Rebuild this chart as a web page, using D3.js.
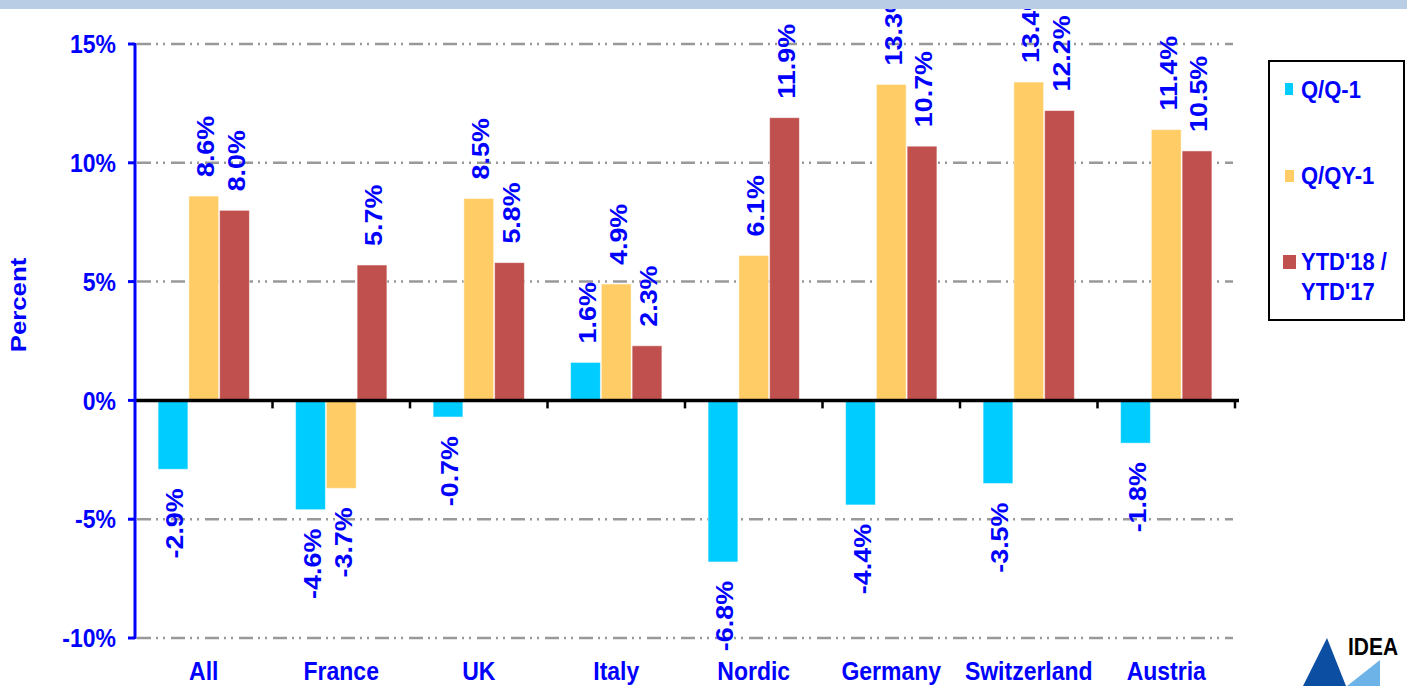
<!DOCTYPE html>
<html>
<head>
<meta charset="utf-8">
<script src="https://cdn.jsdelivr.net/npm/d3@7"></script>
<style>
  body { margin: 0; background: #fff; }
  svg { display: block; font-family: "Liberation Sans", Arial, sans-serif; font-weight: bold; }
</style>
</head>
<body>
<svg id="chart" width="1407" height="686"></svg>
<script>
// chart data
const categories = ["All", "France", "UK", "Italy", "Nordic", "Germany", "Switzerland", "Austria"];
const seriesNames = ["Q/Q-1", "Q/QY-1", "YTD'18 / YTD'17"];
const qq1 = [-2.9, -4.6, -0.7, 1.6, -6.8, -4.4, -3.5, -1.8];
const qqy1 = [8.6, -3.7, 8.5, 4.9, 6.1, 13.3, 13.4, 11.4];
const ytd = [8.0, 5.7, 5.8, 2.3, 11.9, 10.7, 12.2, 10.5];
const yTicks = [-10, -5, 0, 5, 10, 15];

const colors = ["#00CCFF", "#FFCC66", "#C0504D"];
const blue = "#0000FF";
const stretch = 1.12; // the original text looks a bit taller than plain Arial

const svg = d3.select("#chart");

const x0 = d3.scaleBand().domain(categories).range([135, 1235]).padding(0);
const x1 = d3.scaleBand().domain(seriesNames).range([0, x0.bandwidth()])
    .paddingInner(0.03).paddingOuter(0.75);
const y = d3.scaleLinear().domain([-10, 15]).range([638, 44]);

// gridlines
svg.append("g")
    .selectAll("line")
    .data(yTicks.filter(d => d !== 0))
    .enter()
    .append("line")
    .attr("x1", 137).attr("x2", 1233)
    .attr("y1", d => y(d)).attr("y2", d => y(d))
    .attr("stroke", "#999")
    .attr("stroke-width", 2.5)
    .attr("stroke-dasharray", "14,5,2,5,2,6");

// bars
const rows = categories.map((c, i) => ({ cat: c, vals: [qq1[i], qqy1[i], ytd[i]] }));

const groups = svg.append("g")
    .selectAll("g")
    .data(rows)
    .enter()
    .append("g")
    .attr("transform", d => `translate(${x0(d.cat)},0)`);

groups.selectAll("rect")
    .data(d => d.vals.map((v, j) => ({ key: seriesNames[j], v: v, j: j })))
    .enter()
    .append("rect")
    .attr("x", d => x1(d.key))
    .attr("width", x1.bandwidth())
    .attr("y", d => y(Math.max(0, d.v)))
    .attr("height", d => Math.abs(y(d.v) - y(0)))
    .attr("fill", d => colors[d.j])
    .attr("stroke", "rgba(255,255,255,0.55)")
    .attr("stroke-width", 1);

// data labels
groups.selectAll("text")
    .data(d => d.vals.map((v, j) => ({ key: seriesNames[j], v: v, j: j })))
    .enter()
    .append("text")
    .attr("transform", d => {
        const cx = x1(d.key) + x1.bandwidth() / 2 + 2;
        const cy = d.v >= 0 ? y(d.v) - 19 : y(d.v) + 19;
        return `translate(${cx},${cy}) scale(1,${stretch}) rotate(-90)`;
    })
    .attr("dy", "0.35em")
    .attr("text-anchor", d => d.v >= 0 ? "start" : "end")
    .attr("fill", blue)
    .attr("font-size", 24)
    .text(d => d.v.toFixed(1) + "%");

// zero axis with category ticks
svg.append("line")
    .attr("x1", 135).attr("x2", 1239)
    .attr("y1", y(0)).attr("y2", y(0))
    .attr("stroke", "#000").attr("stroke-width", 3.5);

svg.append("g")
    .selectAll("line")
    .data(categories.slice(1).concat(["end"]))
    .enter()
    .append("line")
    .attr("x1", d => d === "end" ? x0.range()[1] : x0(d))
    .attr("x2", d => d === "end" ? x0.range()[1] : x0(d))
    .attr("y1", y(0)).attr("y2", y(0) + 8)
    .attr("stroke", "#000").attr("stroke-width", 2.5);

// category labels
svg.append("g")
    .selectAll("text")
    .data(categories)
    .enter()
    .append("text")
    .attr("transform", d => `translate(${x0(d) + x0.bandwidth() / 2},680) scale(1,${stretch})`)
    .attr("text-anchor", "middle")
    .attr("fill", blue)
    .attr("font-size", 23)
    .text(d => d);

// y axis
svg.append("line")
    .attr("x1", 135).attr("x2", 135)
    .attr("y1", y(15) - 1).attr("y2", y(-10) + 1)
    .attr("stroke", blue).attr("stroke-width", 3);

const yAxis = svg.append("g");
yAxis.selectAll("line")
    .data(yTicks)
    .enter()
    .append("line")
    .attr("x1", 128).attr("x2", 135)
    .attr("y1", d => y(d)).attr("y2", d => y(d))
    .attr("stroke", blue).attr("stroke-width", 3);

yAxis.selectAll("text")
    .data(yTicks)
    .enter()
    .append("text")
    .attr("transform", d => `translate(116,${y(d)}) scale(1,${stretch})`)
    .attr("dy", "0.36em")
    .attr("text-anchor", "end")
    .attr("fill", blue)
    .attr("font-size", 23)
    .text(d => d + "%");

svg.append("text")
    .attr("transform", `translate(26,305) scale(1,${stretch}) rotate(-90)`)
    .attr("text-anchor", "middle")
    .attr("fill", blue)
    .attr("font-size", 23)
    .text("Percent");

// legend
const legend = svg.append("g");
legend.append("rect")
    .attr("x", 1269).attr("y", 61)
    .attr("width", 135).attr("height", 259)
    .attr("fill", "#fff")
    .attr("stroke", "#000").attr("stroke-width", 2);

const legendKeys = [
    { lines: ["Q/Q-1"], base: 98, sw: [1285, 83, 8, 12] },
    { lines: ["Q/QY-1"], base: 184, sw: [1285, 170, 9, 12] },
    { lines: ["YTD'18 /", "YTD'17"], base: 270, sw: [1283, 255, 13, 14] }
];
legendKeys.forEach((k, i) => {
    legend.append("rect")
        .attr("x", k.sw[0]).attr("y", k.sw[1])
        .attr("width", k.sw[2]).attr("height", k.sw[3])
        .attr("fill", colors[i]);
    k.lines.forEach((t, li) => {
        legend.append("text")
            .attr("transform", `translate(1301,${k.base + li * 30}) scale(1,${stretch})`)
            .attr("fill", blue)
            .attr("font-size", 22)
            .text(t);
    });
});

// top band (drawn last so it clips the tall labels)
svg.append("rect")
    .attr("x", 0).attr("y", 0)
    .attr("width", 1407).attr("height", 9)
    .attr("fill", "#B9CDE5");

// IDEA logo
const logo = svg.append("g");
logo.append("path")
    .attr("d", "M1327,638 L1346,686 L1303,686 Z")
    .attr("fill", "#0B4EA2");
logo.append("path")
    .attr("d", "M1347,686 L1380,660 L1380,686 Z")
    .attr("fill", "#6DB3E8");
logo.append("text")
    .attr("transform", `translate(1348,655) scale(1,${stretch})`)
    .attr("fill", "#000")
    .attr("font-size", 21)
    .attr("font-weight", 900)
    .text("IDEA");
</script>
</body>
</html>
